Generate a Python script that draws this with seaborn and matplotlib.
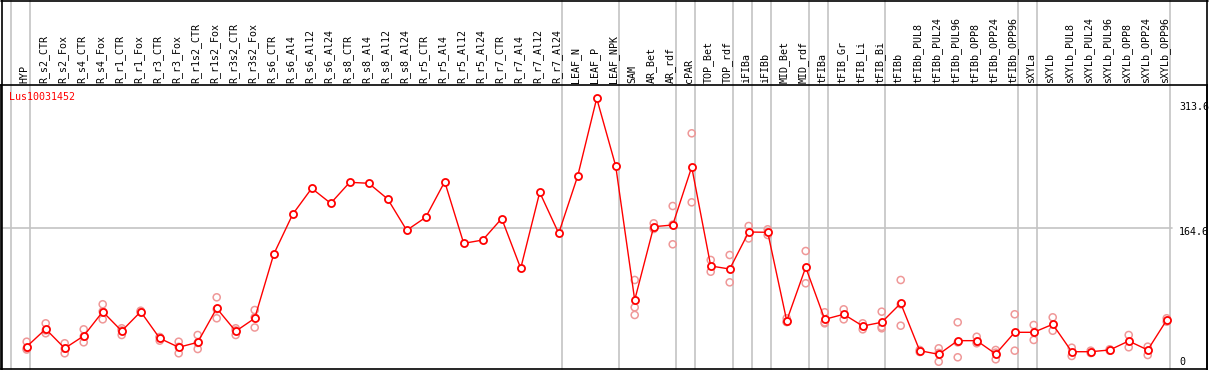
import numpy as np
import pandas as pd
import matplotlib
matplotlib.use("Agg")
import matplotlib.pyplot as plt
import matplotlib.transforms as mtransforms
from matplotlib.lines import Line2D
import seaborn as sns

sns.set_style("white")
plt.rcParams["font.family"] = ["DejaVu Sans Mono", "DejaVu Sans"]

# -------- data --------
gene = "Lus10031452"
samples = [
    "HYP", "R_s2_CTR", "R_s2_Fox", "R_s4_CTR", "R_s4_Fox", "R_r1_CTR", "R_r1_Fox",
    "R_r3_CTR", "R_r3_Fox", "R_r1s2_CTR", "R_r1s2_Fox", "R_r3s2_CTR", "R_r3s2_Fox",
    "R_s6_CTR", "R_s6_Al4", "R_s6_Al12", "R_s6_Al24", "R_s8_CTR", "R_s8_Al4",
    "R_s8_Al12", "R_s8_Al24", "R_r5_CTR", "R_r5_Al4", "R_r5_Al12", "R_r5_Al24",
    "R_r7_CTR", "R_r7_Al4", "R_r7_Al12", "R_r7_Al24", "LEAF_N", "LEAF_P", "LEAF_NPK",
    "SAM", "AR_Bet", "AR_rdf", "cPAR", "TOP_Bet", "TOP_rdf", "iFIBa", "iFIBb",
    "MID_Bet", "MID_rdf", "tFIBa", "tFIB_Gr", "tFIB_Li", "tFIB_Bi", "tFIBb",
    "tFIBb_PUL8", "tFIBb_PUL24", "tFIBb_PUL96", "tFIBb_OPP8", "tFIBb_OPP24",
    "tFIBb_OPP96", "sXYLa", "sXYLb", "sXYLb_PUL8", "sXYLb_PUL24", "sXYLb_PUL96",
    "sXYLb_OPP8", "sXYLb_OPP24", "sXYLb_OPP96",
]
means = [
    28.3, 48.6, 26.4, 40.6, 68.5, 46.3, 68.5, 37.9, 27.6, 33.3, 72.4, 46.0, 60.9,
    134.4, 180.4, 210.2, 193.0, 217.1, 216.0, 197.9, 162.0, 176.9, 217.8, 147.0,
    150.8, 175.5, 118.3, 205.6, 158.5, 224.4, 313.6, 235.8,
    81.9, 166.1, 168.1, 234.7, 121.0, 117.5, 160.0, 159.7, 58.1, 119.5, 59.7, 65.5,
    52.0, 56.3, 78.1, 23.7, 19.5, 35.2, 35.2, 19.9, 44.8, 44.8, 54.0, 22.5, 22.5,
    24.5, 34.8, 24.5, 58.9,
]
replicates = [
    [34.0, 26.4, 25.0], [55.1, 43.7, 47.0], [32.2, 20.7, 26.0], [48.2, 33.3, 40.0],
    [77.0, 59.7, 68.8], [49.4, 41.7, 47.0], [69.6, 68.1, 67.8], [39.1, 35.2, 39.4],
    [34.0, 20.7, 28.1], [41.7, 25.6, 32.6], [85.0, 60.9, 71.3], [49.4, 41.7, 47.0],
    [70.4, 50.3, 62.0],
    [], [], [], [], [], [], [], [], [], [], [], [], [], [], [], [], [], [], [],
    [104.9, 73.5, 64.7], [170.0, 163.5, 164.8], [189.9, 145.9, 168.5],
    [273.4, 194.1], [127.9, 114.4], [133.6, 102.2], [166.9, 152.6], [163.1, 156.6],
    [60.9, 56.6, 56.8], [138.2, 101.1], [67.8, 55.1, 56.2], [71.2, 59.7],
    [55.1, 48.2], [68.5, 49.4, 51.0], [104.9, 52.4, 77.0], [24.5, 22.2],
    [26.4, 11.0, 21.1], [56.3, 16.1, 33.2], [39.7, 32.2, 33.7], [24.5, 13.8, 21.4],
    [65.5, 23.7], [53.2, 36.0], [62.0, 46.6], [27.1, 17.6], [23.7, 21.0],
    [25.3, 23.7], [41.7, 27.6], [28.3, 18.7], [60.9, 57.0],
]
# index of the last sample in each group (separator drawn right after it)
group_ends = [-1, 0, 28, 31, 34, 35, 37, 38, 39, 41, 42, 45, 52, 53, 60]
grid_value = 164.6
scale_labels = ["313.6", "164.6", "0"]

df = pd.DataFrame({"idx": np.arange(len(samples)), "sample": samples, "mean": means})
rep_df = pd.DataFrame(
    [(i, v) for i, vals in enumerate(replicates) for v in vals], columns=["idx", "value"]
)

# -------- figure --------
W, H = 1209, 370
fig = plt.figure(figsize=(W / 100, H / 100), dpi=100)
ax = fig.add_axes([1 / W, 1 / H, 1206 / W, 284 / H])
ax.set_xlim(-1.3526, 62.12)
ax.set_ylim(2.64, 328.9)
ax.set_xticks([])
ax.set_yticks([])
for s in ax.spines.values():
    s.set_color("black")
    s.set_linewidth(1.2)

grid_c = "#c4c4c4"
ax.axhline(grid_value, xmin=0, xmax=(1172 - 1) / 1206, color=grid_c, lw=1.2, zorder=1)
for g in group_ends:
    ax.axvline(g + 0.17, ymin=0, ymax=369 / 284, color=grid_c, lw=1.2,
               clip_on=False, zorder=1)

# replicates
pink = "#ef9898"
sns.scatterplot(data=rep_df, x="idx", y="value", ax=ax, marker="o", s=26,
                facecolor="none", edgecolor=pink, linewidth=1.1, zorder=3,
                legend=False)

# mean profile
sns.lineplot(data=df, x="idx", y="mean", ax=ax, color="red", lw=1.0,
             zorder=4, legend=False)
sns.scatterplot(data=df, x="idx", y="mean", ax=ax, marker="o", s=26,
                facecolor="white", edgecolor="red", linewidth=1.3, zorder=6,
                legend=False)
ax.set_xlabel("")
ax.set_ylabel("")

# header sample labels
trans = mtransforms.blended_transform_factory(ax.transData, ax.transAxes)
for i, name in enumerate(samples):
    ax.text(i - 0.12, (369 - 83) / 284, name, rotation=90, ha="center", va="bottom",
            fontsize=7.2, color="black", transform=trans, clip_on=False)

ax.text(8 / 1206, (369 - 97.5) / 284, gene, color="red", fontsize=7.2,
        ha="left", va="center", transform=ax.transAxes)

for lab, yc in zip(scale_labels, [107, 232, 362]):
    ax.text(1178 / 1206, (369 - yc) / 284, lab, fontsize=7.2, ha="left",
            va="center", color="black", transform=ax.transAxes, clip_on=False)

# outer frame around header
fig.add_artist(Line2D([0.5 / W, 1208 / W], [1 - 0.5 / H, 1 - 0.5 / H],
                      color="black", lw=1.2, transform=fig.transFigure))
fig.add_artist(Line2D([1.5 / W, 1.5 / W], [0, 1], color="black", lw=1.2,
                      transform=fig.transFigure))
fig.add_artist(Line2D([1207 / W, 1207 / W], [0, 1], color="black", lw=1.2,
                      transform=fig.transFigure))

fig.savefig("out.png", dpi=100)
